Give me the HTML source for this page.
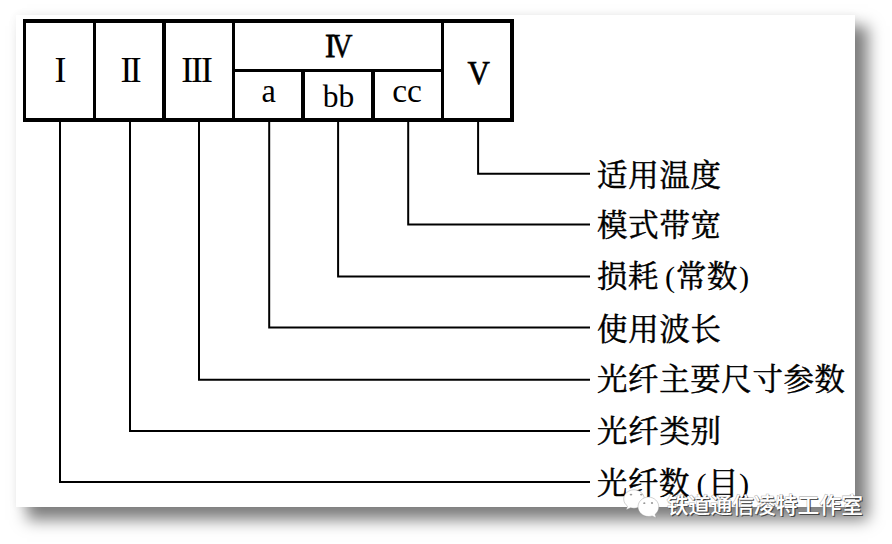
<!DOCTYPE html>
<html><head><meta charset="utf-8"><title>diagram</title>
<style>
html,body{margin:0;padding:0;background:#fff;}
body{width:892px;height:544px;position:relative;overflow:hidden;font-family:"Liberation Serif",serif;}
#card{position:absolute;left:15.5px;top:15px;width:839.5px;height:492px;background:#fff;box-shadow:11.5px 12px 14.6px 1px rgba(0,0,0,0.5),0 0 9px rgba(0,0,0,0.05);}
svg{position:absolute;left:0;top:0;}
.t{position:absolute;white-space:nowrap;color:transparent;font-family:"Liberation Serif",serif;}
</style></head><body>
<div id="card"></div>
<div class="t" style="left:597px;top:158.6px;font-size:31px;line-height:31px;">适用温度</div>
<div class="t" style="left:597px;top:208.9px;font-size:31px;line-height:31px;">模式带宽</div>
<div class="t" style="left:597px;top:259.9px;font-size:31px;line-height:31px;">损耗(常数)</div>
<div class="t" style="left:597px;top:312.6px;font-size:31px;line-height:31px;">使用波长</div>
<div class="t" style="left:597px;top:362.6px;font-size:31px;line-height:31px;">光纤主要尺寸参数</div>
<div class="t" style="left:597px;top:415.3px;font-size:31px;line-height:31px;">光纤类别</div>
<div class="t" style="left:597px;top:466.8px;font-size:31px;line-height:31px;">光纤数(目)</div>
<div class="t" style="left:26px;top:46px;font-size:36px;line-height:36px;width:67px;text-align:center;">I</div>
<div class="t" style="left:96px;top:46px;font-size:36px;line-height:36px;width:66px;text-align:center;">II</div>
<div class="t" style="left:166px;top:46px;font-size:36px;line-height:36px;width:66px;text-align:center;">III</div>
<div class="t" style="left:235px;top:21px;font-size:36px;line-height:36px;width:206px;text-align:center;">IV</div>
<div class="t" style="left:444px;top:48px;font-size:36px;line-height:36px;width:66px;text-align:center;">V</div>
<div class="t" style="left:235px;top:72px;font-size:34px;line-height:34px;width:66px;text-align:center;">a</div>
<div class="t" style="left:305px;top:76px;font-size:31.5px;line-height:31.5px;width:66px;text-align:center;">bb</div>
<div class="t" style="left:375px;top:72px;font-size:33.5px;line-height:33.5px;width:66px;text-align:center;">cc</div>
<div class="t" style="left:667px;top:494px;font-size:21.8px;line-height:21.8px;">铁道通信凌特工作室</div>
<svg width="892" height="544" viewBox="0 0 892 544">
<rect x="23" y="19" width="491" height="4" fill="#000"/>
<rect x="23" y="118" width="491" height="4" fill="#000"/>
<rect x="23" y="19" width="3" height="103" fill="#000"/>
<rect x="510" y="19" width="4" height="103" fill="#000"/>
<rect x="93" y="19" width="3" height="103" fill="#000"/>
<rect x="162" y="19" width="4" height="103" fill="#000"/>
<rect x="232" y="19" width="3" height="103" fill="#000"/>
<rect x="441" y="19" width="3" height="103" fill="#000"/>
<rect x="235" y="69" width="206" height="3" fill="#000"/>
<rect x="301" y="69" width="4" height="53" fill="#000"/>
<rect x="371" y="69" width="4" height="53" fill="#000"/>
<path d="M478.1 121 V173.8 H590" fill="none" stroke="#000" stroke-width="2"/>
<path d="M408.2 121 V224.6 H590" fill="none" stroke="#000" stroke-width="2"/>
<path d="M338.1 121 V276.6 H590" fill="none" stroke="#000" stroke-width="2"/>
<path d="M269.2 121 V327.6 H590" fill="none" stroke="#000" stroke-width="2"/>
<path d="M199 121 V379.8 H590" fill="none" stroke="#000" stroke-width="2"/>
<path d="M130 121 V431 H590" fill="none" stroke="#000" stroke-width="2"/>
<path d="M60 121 V482 H590" fill="none" stroke="#000" stroke-width="2"/>
<g font-family='"Liberation Serif", "Noto Serif CJK SC", serif' font-size="30.4" fill="#000" stroke="#000" stroke-width="0.5">
<text x="597" y="185.6" textLength="124" lengthAdjust="spacing">适用温度</text>
<text x="597" y="235.9" textLength="124" lengthAdjust="spacing">模式带宽</text>
<text y="286.9"><tspan x="597">损</tspan><tspan x="628">耗</tspan><tspan x="665" stroke="none">(</tspan><tspan x="676">常</tspan><tspan x="707">数</tspan><tspan x="739" stroke="none">)</tspan></text>
<text x="597" y="339.6" textLength="124" lengthAdjust="spacing">使用波长</text>
<text x="597" y="389.6" textLength="248" lengthAdjust="spacing">光纤主要尺寸参数</text>
<text x="597" y="442.3" textLength="124" lengthAdjust="spacing">光纤类别</text>
<text y="493.8"><tspan x="597">光</tspan><tspan x="628">纤</tspan><tspan x="659">数</tspan><tspan x="696.500" stroke="none">(</tspan><tspan x="708">目</tspan><tspan x="739" stroke="none">)</tspan></text>
</g>
<g font-family='"Liberation Serif", serif' fill="#000">
<text x="54.57" y="81.9" font-size="35.6">I</text>
<text x="120.39" y="81.9" font-size="35.6" letter-spacing="-2.5">II</text>
<text x="181.22" y="81.9" font-size="35.6" letter-spacing="-2">III</text>
<text transform="translate(324.96,56.6) scale(0.92,1)" font-size="34.2" stroke="#000" stroke-width="0.8">I</text>
<text transform="translate(331.63,56.6) scale(0.84,1)" font-size="34.2" stroke="#000" stroke-width="0.6">V</text>
<text transform="translate(467.52,83.6) scale(0.9,1)" font-size="34.4" stroke="#000" stroke-width="0.7">V</text>
<text transform="translate(261.43,102) scale(0.95,1)" font-size="34">a</text>
<text x="322.85" y="106.5" font-size="31.5">bb</text>
<text x="392.13" y="102" font-size="33.5">cc</text>
</g>
<g font-family='"Liberation Sans", "Noto Sans CJK SC", sans-serif' font-size="21.8" font-weight="500">
<text x="666.8" y="512.6" fill="none" stroke="#666" stroke-width="1.09" opacity="0.45">铁道通信凌特工作室</text>
<text x="667.9" y="513.7" fill="#333" opacity="0.8">铁道通信凌特工作室</text>
<text x="666.8" y="512.6" fill="#fff">铁道通信凌特工作室</text>
</g>
<g fill="#fff" stroke="#888" stroke-width="0.7" stroke-opacity="0.55">
<path d="M634 489.8c-5.700 0-10.300 4.100-10.300 9.200 0 2.900 1.500 5.400 3.800 7.100l-1.200 3.700 4.200-2.100c1.100.3 2.300.5 3.500.5 5.700 0 10.300-4.100 10.300-9.200s-4.600-9.200-10.300-9.200z"/>
<path d="M648.4 497.100c5.700 0 10.400 4.400 10.400 9.800 0 2.900-1.400 5.600-3.700 7.400l1.100 3.600-4.100-2c-1.200.4-2.400.6-3.700.6-5.700 0-10.400-4.400-10.400-9.700s4.700-9.700 10.400-9.700z"/>
</g>
<g fill="#999"><ellipse cx="631" cy="494.600" rx="1.300" ry="0.900"/><ellipse cx="641.300" cy="494.600" rx="1.300" ry="0.900"/><ellipse cx="644.300" cy="503.200" rx="1.100" ry="0.900"/><ellipse cx="652" cy="503" rx="1.100" ry="0.900"/></g>
</svg>
</body></html>
